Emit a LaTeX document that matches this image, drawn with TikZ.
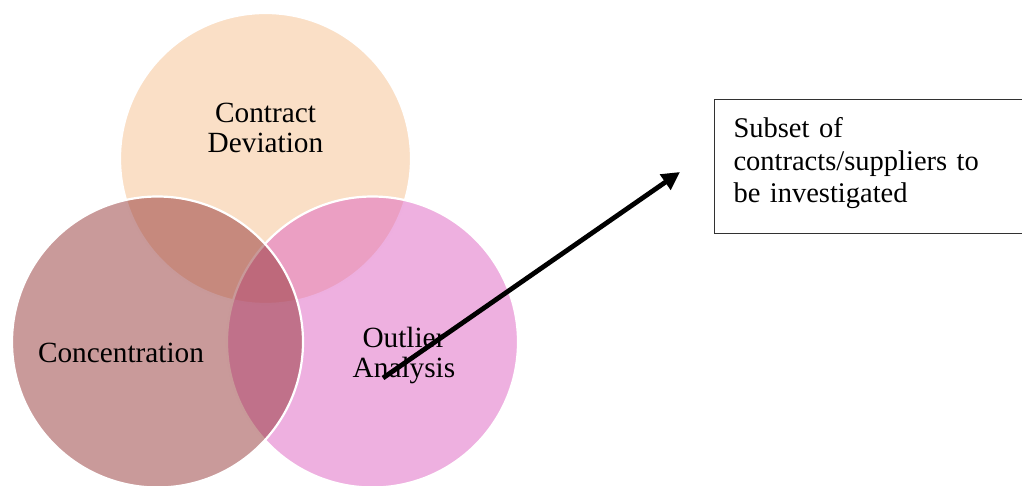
\documentclass[tikz,border=0pt]{standalone}
\usepackage{fontspec}
\setmainfont{Liberation Serif}
\usetikzlibrary{arrows.meta}
\definecolor{cpeach}{RGB}{250,223,198}
\definecolor{cmag}{RGB}{221,97,193}
\definecolor{cbrown}{RGB}{147,53,53}
\definecolor{cbox}{RGB}{50,50,50}
\tikzset{
  venn/.style={draw=white, line width=2.2, fill opacity=0.5, draw opacity=1},
  venntext/.style={align=center, font=\fontsize{29.3}{30}\selectfont, inner sep=0},
  boxstyle/.style={draw=cbox, line width=1, anchor=north west, minimum height=133,
    text width=300, align=left, inner xsep=19, inner ysep=18, font=\fontsize{28.5}{32.5}\selectfont},
  bigarrow/.style={line width=4.8, -{Triangle[length=18,width=18]}}
}
\begin{document}
\begin{tikzpicture}[x=1pt,y=-1pt]
\path[use as bounding box, clip] (0,0) rectangle (1022,486);
% circles
\path[venn, fill=cpeach, fill opacity=1] (265.5,158.5) circle (145.5);
\path[venn, fill=cmag] (372.5,342) circle (145.5);
\path[venn, fill=cbrown] (157.5,342) circle (145.5);
% labels
\node[venntext] (cd) at (265.5,128) {Contract\\Deviation};
\node[venntext] (conc) at (121,353) {Concentration};
\node[venntext] (oa) at (404,355) {Outlier\\Analysis};
% box
\node[boxstyle] (box) at (714,99) {Subset of\\contracts/suppliers to\\be investigated\rule[-13pt]{0pt}{0pt}};
% arrow
\coordinate (as) at (383,378);
\coordinate (ae) at (680,172);
\draw[bigarrow] (as) -- (ae);
\end{tikzpicture}
\end{document}
